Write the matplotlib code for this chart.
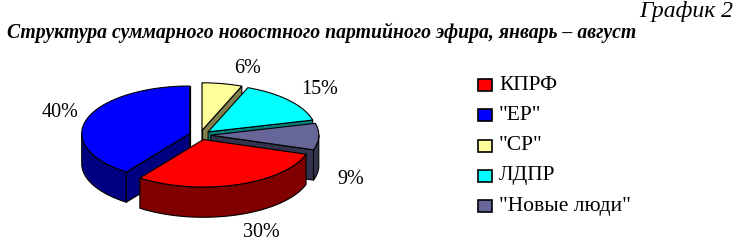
import numpy as np
import matplotlib
matplotlib.use("Agg")
import matplotlib.pyplot as plt
from matplotlib.patches import Polygon, Rectangle

plt.rcParams['font.family'] = ['Liberation Serif', 'DejaVu Serif']

# data
parties = ['КПРФ', '"ЕР"', '"СР"', 'ЛДПР', '"Новые люди"']
shares = [30, 40, 6, 15, 9]
colors = ['#ff0000', '#0000ff', '#ffff99', '#00ffff', '#666699']
title = 'Структура суммарного новостного партийного эфира, январь – август'
caption = 'График 2'

# label positions (pie data coords)
label_pos = [(0.57, -0.90), (-1.30, 0.21), (0.44, 0.62), (1.11, 0.42), (1.40, -0.41)]

first_angle = 108   # clockwise from 12 o'clock, like excel
ry = 0.44           # vertical squash
depth = 0.28
explode = 0.10

fig = plt.figure(figsize=(7.38, 2.47), dpi=100)
ax = fig.add_axes([40 / 738, 0, 340 / 738, 187 / 247])
ax.set_xlim(-160 / 108, 180 / 108)
ax.set_ylim(-112 / 108, 75 / 108)
ax.axis('off')


def rim(cx, cy, ts):
    r = np.radians(ts)
    return np.column_stack([cx + np.cos(r), cy + ry * np.sin(r)])


def darker(c, f=0.5):
    rgb = np.array(matplotlib.colors.to_rgb(c))
    return tuple(rgb * f)


slices = []
start = first_angle
for v, c in zip(shares, colors):
    end = start + v / sum(shares) * 360
    t2, t1 = 90 - start, 90 - end
    mid = np.radians((t1 + t2) / 2)
    cx, cy = explode * np.cos(mid), explode * ry * np.sin(mid)
    slices.append((t1, t2, cx, cy, c, np.sin(mid)))
    start = end

# back to front
for t1, t2, cx, cy, c, depth_key in sorted(slices, key=lambda s: -s[5]):
    side = darker(c)
    kw = dict(edgecolor='black', linewidth=0.8, joinstyle='round')
    # radial walls facing the viewer
    for t, vis in ((t1, np.cos(np.radians(t1)) > -1e-6), (t2, np.cos(np.radians(t2)) < 1e-6)):
        if vis:
            p = rim(cx, cy, [t])[0]
            wall = [(cx, cy), p, (p[0], p[1] - depth), (cx, cy - depth)]
            ax.add_patch(Polygon(wall, facecolor=side, **kw))
    # outer curved side, front part only
    for lo, hi in ((-180, 0), (-540, -360)):
        a, b = max(t1, lo), min(t2, hi)
        if b > a:
            top = rim(cx, cy, np.linspace(a, b, 80))
            bot = top - [0, depth]
            ax.add_patch(Polygon(np.vstack([top, bot[::-1]]), facecolor=side, **kw))
    # top face
    pts = np.vstack([[cx, cy], rim(cx, cy, np.linspace(t1, t2, 120))])
    ax.add_patch(Polygon(pts, facecolor=c, **kw))

for v, (lx, ly) in zip(shares, label_pos):
    ax.text(lx, ly, f'{v}%', ha='center', va='center', fontsize=14.5)

# legend
for i, (name, c) in enumerate(zip(parties, colors)):
    yc = 1 - (85 + i * 30.3) / 247
    fig.patches.append(Rectangle((478 / 738, yc - 6 / 247), 14 / 738, 12 / 247,
                                 transform=fig.transFigure, facecolor=c,
                                 edgecolor='black', linewidth=1.2))
    fig.text(499 / 738, yc, name, ha='left', va='center', fontsize=15.5)

fig.text(733 / 738, 1 - 12 / 247, caption, ha='right', va='center',
         fontsize=17, style='italic')
fig.text(7 / 738, 1 - 33 / 247, title, ha='left', va='center',
         fontsize=14.2, style='italic', fontweight='bold')

fig.savefig('out.png', dpi=100, facecolor='white')
